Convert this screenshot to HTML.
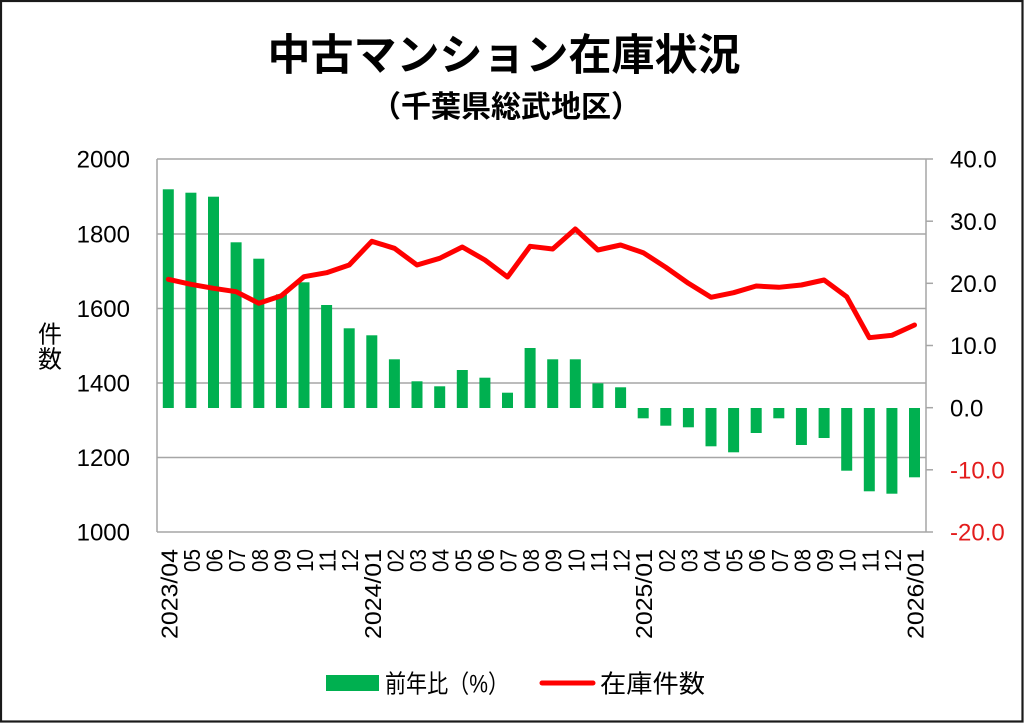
<!DOCTYPE html>
<html><head><meta charset="utf-8"><style>
html,body{margin:0;padding:0;background:#fff;}
svg{display:block;}
text{font-family:"Liberation Sans","Noto Sans CJK JP",sans-serif;}
</style></head><body>
<svg width="1024" height="724" viewBox="0 0 1024 724" xmlns="http://www.w3.org/2000/svg">
<rect x="0" y="0" width="1024" height="724" fill="#fff"/>
<rect x="1" y="1" width="1021.5" height="720.5" fill="none" stroke="#1a1a1a" stroke-width="2.2"/>
<!-- titles -->
<text x="504" y="70" font-size="43" font-weight="bold" text-anchor="middle" fill="#000">中古マンション在庫状況</text>
<text x="506" y="117" font-size="30" font-weight="bold" text-anchor="middle" fill="#000">（千葉県総武地区）</text>
<!-- gridlines -->
<g stroke="#a6a6a6" stroke-width="1.5">
<line x1="157" y1="159" x2="926" y2="159"/>
<line x1="157" y1="234" x2="926" y2="234"/>
<line x1="157" y1="308.5" x2="926" y2="308.5"/>
<line x1="157" y1="383" x2="926" y2="383"/>
<line x1="157" y1="457.5" x2="926" y2="457.5"/>
<line x1="157" y1="532" x2="926" y2="532"/>
<line x1="157" y1="159" x2="157" y2="532"/>
<line x1="926" y1="159" x2="926" y2="532"/>
<line x1="926" y1="159" x2="933" y2="159"/>
<line x1="926" y1="221.2" x2="933" y2="221.2"/>
<line x1="926" y1="283.3" x2="933" y2="283.3"/>
<line x1="926" y1="345.5" x2="933" y2="345.5"/>
<line x1="926" y1="407.7" x2="933" y2="407.7"/>
<line x1="926" y1="469.8" x2="933" y2="469.8"/>
<line x1="926" y1="532" x2="933" y2="532"/>
</g>
<!-- bars -->
<g fill="#00b050">
<rect x="162.8" y="189.3" width="11" height="218.7"/>
<rect x="185.4" y="192.7" width="11" height="215.3"/>
<rect x="208.0" y="196.7" width="11" height="211.3"/>
<rect x="230.6" y="242.3" width="11" height="165.7"/>
<rect x="253.3" y="258.7" width="11" height="149.3"/>
<rect x="275.9" y="294.3" width="11" height="113.7"/>
<rect x="298.5" y="282.3" width="11" height="125.7"/>
<rect x="321.1" y="305" width="11" height="103"/>
<rect x="343.7" y="328.3" width="11" height="79.7"/>
<rect x="366.3" y="335.3" width="11" height="72.7"/>
<rect x="388.9" y="359.3" width="11" height="48.7"/>
<rect x="411.5" y="381.3" width="11" height="26.7"/>
<rect x="434.2" y="386.3" width="11" height="21.7"/>
<rect x="456.8" y="370" width="11" height="38"/>
<rect x="479.4" y="377.7" width="11" height="30.3"/>
<rect x="502.0" y="392.7" width="11" height="15.3"/>
<rect x="524.6" y="348" width="11" height="60"/>
<rect x="547.2" y="359.3" width="11" height="48.7"/>
<rect x="569.8" y="359.3" width="11" height="48.7"/>
<rect x="592.4" y="383.3" width="11" height="24.7"/>
<rect x="615.1" y="387.3" width="11" height="20.7"/>
<rect x="637.7" y="408" width="11" height="10.3"/>
<rect x="660.3" y="408" width="11" height="17.7"/>
<rect x="682.9" y="408" width="11" height="19.3"/>
<rect x="705.5" y="408" width="11" height="38.3"/>
<rect x="728.1" y="408" width="11" height="44.3"/>
<rect x="750.7" y="408" width="11" height="25"/>
<rect x="773.3" y="408" width="11" height="10.3"/>
<rect x="795.9" y="408" width="11" height="37"/>
<rect x="818.6" y="408" width="11" height="30"/>
<rect x="841.2" y="408" width="11" height="62.7"/>
<rect x="863.8" y="408" width="11" height="83.3"/>
<rect x="886.4" y="408" width="11" height="85.7"/>
<rect x="909.0" y="408" width="11" height="69.3"/>
</g>
<!-- line -->
<polyline fill="none" stroke="#ff0000" stroke-width="5" stroke-linejoin="round" stroke-linecap="round" points="168.3,279.3 190.9,284.3 213.5,288.3 236.1,291.7 258.8,303.3 281.4,295.7 304.0,276.7 326.6,272.7 349.2,265 371.8,241.3 394.4,248.3 417.0,265 439.7,258.3 462.3,247 484.9,260 507.5,277 530.1,246.3 552.7,249 575.3,229 597.9,250 620.6,245 643.2,252.7 665.8,267.3 688.4,283.3 711.0,297.3 733.6,292.7 756.2,286 778.8,287.3 801.4,285 824.1,280 846.7,296.7 869.3,337.7 891.9,335.3 914.5,325"/>
<!-- left axis labels -->
<g font-size="24" fill="#000" text-anchor="end">
<text x="130" y="167.6">2000</text>
<text x="130" y="242.6">1800</text>
<text x="130" y="317.1">1600</text>
<text x="130" y="391.6">1400</text>
<text x="130" y="466.1">1200</text>
<text x="130" y="540.6">1000</text>
</g>
<text x="50" y="342.5" font-size="24" text-anchor="middle" fill="#000">件</text>
<text x="50" y="367.5" font-size="24" text-anchor="middle" fill="#000">数</text>
<!-- right axis labels -->
<g font-size="24" fill="#000">
<text x="950" y="167.6">40.0</text>
<text x="950" y="229.8">30.0</text>
<text x="950" y="291.9">20.0</text>
<text x="950" y="354.1">10.0</text>
<text x="950" y="416.3">0.0</text>
<text x="950" y="478.4" fill="#e31c1c">-10.0</text>
<text x="950" y="540.6" fill="#e31c1c">-20.0</text>
</g>
<!-- x labels -->
<g font-size="23" fill="#000" text-anchor="end" lengthAdjust="spacingAndGlyphs">
<text transform="translate(177.3,549) rotate(-90)" textLength="90" lengthAdjust="spacingAndGlyphs">2023/04</text>
<text transform="translate(199.9,549) rotate(-90)" textLength="23" lengthAdjust="spacingAndGlyphs">05</text>
<text transform="translate(222.5,549) rotate(-90)" textLength="23" lengthAdjust="spacingAndGlyphs">06</text>
<text transform="translate(245.1,549) rotate(-90)" textLength="23" lengthAdjust="spacingAndGlyphs">07</text>
<text transform="translate(267.8,549) rotate(-90)" textLength="23" lengthAdjust="spacingAndGlyphs">08</text>
<text transform="translate(290.4,549) rotate(-90)" textLength="23" lengthAdjust="spacingAndGlyphs">09</text>
<text transform="translate(313.0,549) rotate(-90)" textLength="23" lengthAdjust="spacingAndGlyphs">10</text>
<text transform="translate(335.6,549) rotate(-90)" textLength="23" lengthAdjust="spacingAndGlyphs">11</text>
<text transform="translate(358.2,549) rotate(-90)" textLength="23" lengthAdjust="spacingAndGlyphs">12</text>
<text transform="translate(380.8,549) rotate(-90)" textLength="90" lengthAdjust="spacingAndGlyphs">2024/01</text>
<text transform="translate(403.4,549) rotate(-90)" textLength="23" lengthAdjust="spacingAndGlyphs">02</text>
<text transform="translate(426.0,549) rotate(-90)" textLength="23" lengthAdjust="spacingAndGlyphs">03</text>
<text transform="translate(448.7,549) rotate(-90)" textLength="23" lengthAdjust="spacingAndGlyphs">04</text>
<text transform="translate(471.3,549) rotate(-90)" textLength="23" lengthAdjust="spacingAndGlyphs">05</text>
<text transform="translate(493.9,549) rotate(-90)" textLength="23" lengthAdjust="spacingAndGlyphs">06</text>
<text transform="translate(516.5,549) rotate(-90)" textLength="23" lengthAdjust="spacingAndGlyphs">07</text>
<text transform="translate(539.1,549) rotate(-90)" textLength="23" lengthAdjust="spacingAndGlyphs">08</text>
<text transform="translate(561.7,549) rotate(-90)" textLength="23" lengthAdjust="spacingAndGlyphs">09</text>
<text transform="translate(584.3,549) rotate(-90)" textLength="23" lengthAdjust="spacingAndGlyphs">10</text>
<text transform="translate(606.9,549) rotate(-90)" textLength="23" lengthAdjust="spacingAndGlyphs">11</text>
<text transform="translate(629.6,549) rotate(-90)" textLength="23" lengthAdjust="spacingAndGlyphs">12</text>
<text transform="translate(652.2,549) rotate(-90)" textLength="90" lengthAdjust="spacingAndGlyphs">2025/01</text>
<text transform="translate(674.8,549) rotate(-90)" textLength="23" lengthAdjust="spacingAndGlyphs">02</text>
<text transform="translate(697.4,549) rotate(-90)" textLength="23" lengthAdjust="spacingAndGlyphs">03</text>
<text transform="translate(720.0,549) rotate(-90)" textLength="23" lengthAdjust="spacingAndGlyphs">04</text>
<text transform="translate(742.6,549) rotate(-90)" textLength="23" lengthAdjust="spacingAndGlyphs">05</text>
<text transform="translate(765.2,549) rotate(-90)" textLength="23" lengthAdjust="spacingAndGlyphs">06</text>
<text transform="translate(787.8,549) rotate(-90)" textLength="23" lengthAdjust="spacingAndGlyphs">07</text>
<text transform="translate(810.4,549) rotate(-90)" textLength="23" lengthAdjust="spacingAndGlyphs">08</text>
<text transform="translate(833.1,549) rotate(-90)" textLength="23" lengthAdjust="spacingAndGlyphs">09</text>
<text transform="translate(855.7,549) rotate(-90)" textLength="23" lengthAdjust="spacingAndGlyphs">10</text>
<text transform="translate(878.3,549) rotate(-90)" textLength="23" lengthAdjust="spacingAndGlyphs">11</text>
<text transform="translate(900.9,549) rotate(-90)" textLength="23" lengthAdjust="spacingAndGlyphs">12</text>
<text transform="translate(923.5,549) rotate(-90)" textLength="90" lengthAdjust="spacingAndGlyphs">2026/01</text>
</g>
<!-- legend -->
<rect x="326" y="675" width="53" height="16" fill="#00b050"/>
<text x="385" y="692.5" font-size="25" fill="#000" textLength="124" lengthAdjust="spacingAndGlyphs">前年比（%）</text>
<line x1="542" y1="683" x2="593" y2="683" stroke="#ff0000" stroke-width="5" stroke-linecap="round"/>
<text x="600" y="692.5" font-size="25" fill="#000" textLength="105" lengthAdjust="spacingAndGlyphs">在庫件数</text>
</svg>
</body></html>
